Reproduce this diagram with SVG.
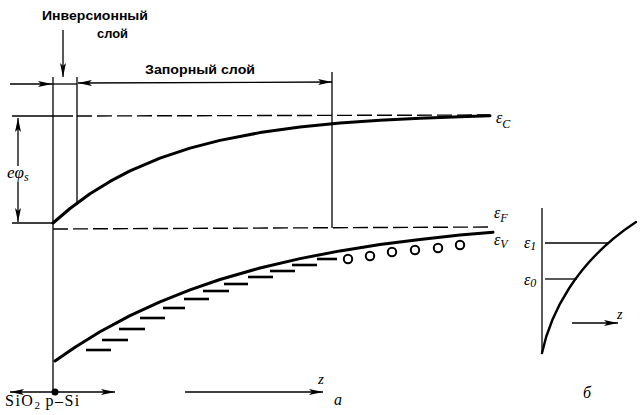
<svg xmlns="http://www.w3.org/2000/svg" width="640" height="415" viewBox="0 0 640 415">
<style>
.ln{stroke:#000;stroke-width:1.3;fill:none}
.dash{stroke:#000;stroke-width:1.4;fill:none;stroke-dasharray:15 5}
.band{stroke:#000;stroke-width:3;fill:none;stroke-linejoin:round;stroke-linecap:round}
.acc{stroke:#000;stroke-width:2.6}
.hole{stroke:#000;stroke-width:2;fill:#fff}
.lbl{font-family:"Liberation Sans",Arial,sans-serif;font-size:13px;fill:#000;font-weight:bold}
.sym{font-family:"Liberation Serif","Times New Roman",serif;font-style:italic;fill:#000}
.ser{font-family:"Liberation Serif","Times New Roman",serif;fill:#000}
</style>
<defs>
<marker id="ah" viewBox="0 0 14 6" refX="14" refY="3" markerWidth="14" markerHeight="6" markerUnits="userSpaceOnUse" orient="auto-start-reverse">
<path d="M0,0 L14,3 L0,6 L3,3 z" fill="#000"/>
</marker>
</defs>
<rect width="640" height="415" fill="#fff"/>

<g id="connectors">
  <line class="ln" x1="10" y1="84" x2="52" y2="84" marker-end="url(#ah)"/>
  <line class="ln" x1="52" y1="84" x2="77" y2="84"/>
  <line class="ln" x1="78" y1="83" x2="332" y2="82" marker-start="url(#ah)" marker-end="url(#ah)"/>
  <line class="ln" x1="63" y1="30" x2="63" y2="77" marker-end="url(#ah)"/>
  <line class="ln" x1="53" y1="77" x2="53" y2="392"/>
  <line class="ln" x1="77" y1="77" x2="77" y2="205"/>
  <line class="ln" x1="332" y1="72" x2="332" y2="228"/>
  <line class="ln" x1="12" y1="116" x2="73" y2="116"/>
  <line class="dash" x1="77" y1="116" x2="490" y2="115"/>
  <line class="ln" x1="18" y1="166" x2="18" y2="118" marker-end="url(#ah)"/>
  <line class="ln" x1="18" y1="182" x2="18" y2="222" marker-end="url(#ah)"/>
  <line class="ln" x1="12" y1="223" x2="53" y2="223"/>
  <line class="dash" x1="53" y1="229" x2="490" y2="227"/>
  <line class="ln" x1="55" y1="392" x2="10" y2="392" marker-end="url(#ah)"/>
  <line class="ln" x1="55" y1="392" x2="115" y2="392" marker-end="url(#ah)"/>
  <line class="ln" x1="185" y1="392" x2="323" y2="392" marker-end="url(#ah)"/>
  <circle cx="55" cy="392" r="3.5" fill="#000"/>
</g>

<g id="bands">
  <path class="band" d="M53,223 L70,208.5 L90,193.8 L110,181.4 L130,170.9 L160,158.1 L190,148.1 L220,140.4 L260,132.6 L300,127.1 L340,123.1 L380,120.2 L420,118.2 L460,116.7 L490,115.8"/>
  <path class="band" d="M55,361 L75,347.2 L100,331.8 L130,315.6 L160,301.8 L190,289.8 L220,279.5 L260,268 L300,258.6 L340,250.9 L380,244.6 L420,239.4 L460,235.1 L493,232.2"/>
</g>

<g id="acceptors">
  <line class="acc" x1="86" y1="350" x2="111" y2="350"/>
  <line class="acc" x1="102" y1="340" x2="128" y2="340"/>
  <line class="acc" x1="119" y1="329" x2="145" y2="329"/>
  <line class="acc" x1="140" y1="318" x2="165" y2="318"/>
  <line class="acc" x1="163" y1="308" x2="185" y2="308"/>
  <line class="acc" x1="184" y1="299" x2="209" y2="299"/>
  <line class="acc" x1="203" y1="291" x2="229" y2="291"/>
  <line class="acc" x1="224" y1="284" x2="248" y2="284"/>
  <line class="acc" x1="248" y1="277" x2="273" y2="277"/>
  <line class="acc" x1="270" y1="271" x2="295" y2="271"/>
  <line class="acc" x1="292" y1="265" x2="317" y2="265"/>
  <line class="acc" x1="317" y1="259" x2="337" y2="259"/>
</g>

<g id="holes">
  <circle class="hole" cx="348" cy="259" r="4.2"/>
  <circle class="hole" cx="370" cy="256" r="4.2"/>
  <circle class="hole" cx="392" cy="252" r="4.2"/>
  <circle class="hole" cx="415" cy="250" r="4.2"/>
  <circle class="hole" cx="438" cy="248" r="4.2"/>
  <circle class="hole" cx="460" cy="245" r="4.2"/>
</g>

<g id="labels">
  <text class="lbl" x="42" y="20" textLength="106" lengthAdjust="spacingAndGlyphs">Инверсионный</text>
  <text class="lbl" x="97" y="38" textLength="31" lengthAdjust="spacingAndGlyphs">слой</text>
  <text class="lbl" x="145" y="74" textLength="110" lengthAdjust="spacingAndGlyphs">Запорный слой</text>
  <text class="sym" x="7" y="178" font-size="17">eφ<tspan font-size="12" dy="3">s</tspan></text>
  <text class="sym" x="496" y="123" font-size="16">ε<tspan font-size="12" dy="5">C</tspan></text>
  <text class="sym" x="494" y="218" font-size="16">ε<tspan font-size="12" dy="4">F</tspan></text>
  <text class="sym" x="494" y="245" font-size="16">ε<tspan font-size="12" dy="3">V</tspan></text>
  <text class="ser" x="5" y="406" font-size="16" letter-spacing="1.5">SiO<tspan font-size="11" dy="3">2</tspan><tspan dy="-3" dx="4">p–Si</tspan></text>
  <text class="sym" x="318" y="384" font-size="15">z</text>
  <text class="sym" x="334" y="405" font-size="16">а</text>
</g>

<g id="panel-b">
  <line class="ln" x1="542" y1="208" x2="542" y2="353"/>
  <path class="band" style="stroke-width:2.4" d="M542,353 C550,315 575,262 636,222"/>
  <line class="ln" x1="545" y1="243" x2="608" y2="243"/>
  <line class="ln" x1="545" y1="279" x2="577" y2="279"/>
  <line class="ln" x1="572" y1="323" x2="618" y2="323" marker-end="url(#ah)"/>
  <text class="sym" x="524" y="248" font-size="16">ε<tspan font-size="12" dy="2">1</tspan></text>
  <text class="sym" x="524" y="285" font-size="16">ε<tspan font-size="12" dy="2">0</tspan></text>
  <text class="sym" x="617" y="319" font-size="14">z</text>
  <text class="sym" x="583" y="398" font-size="16">б</text>
</g>
</svg>
